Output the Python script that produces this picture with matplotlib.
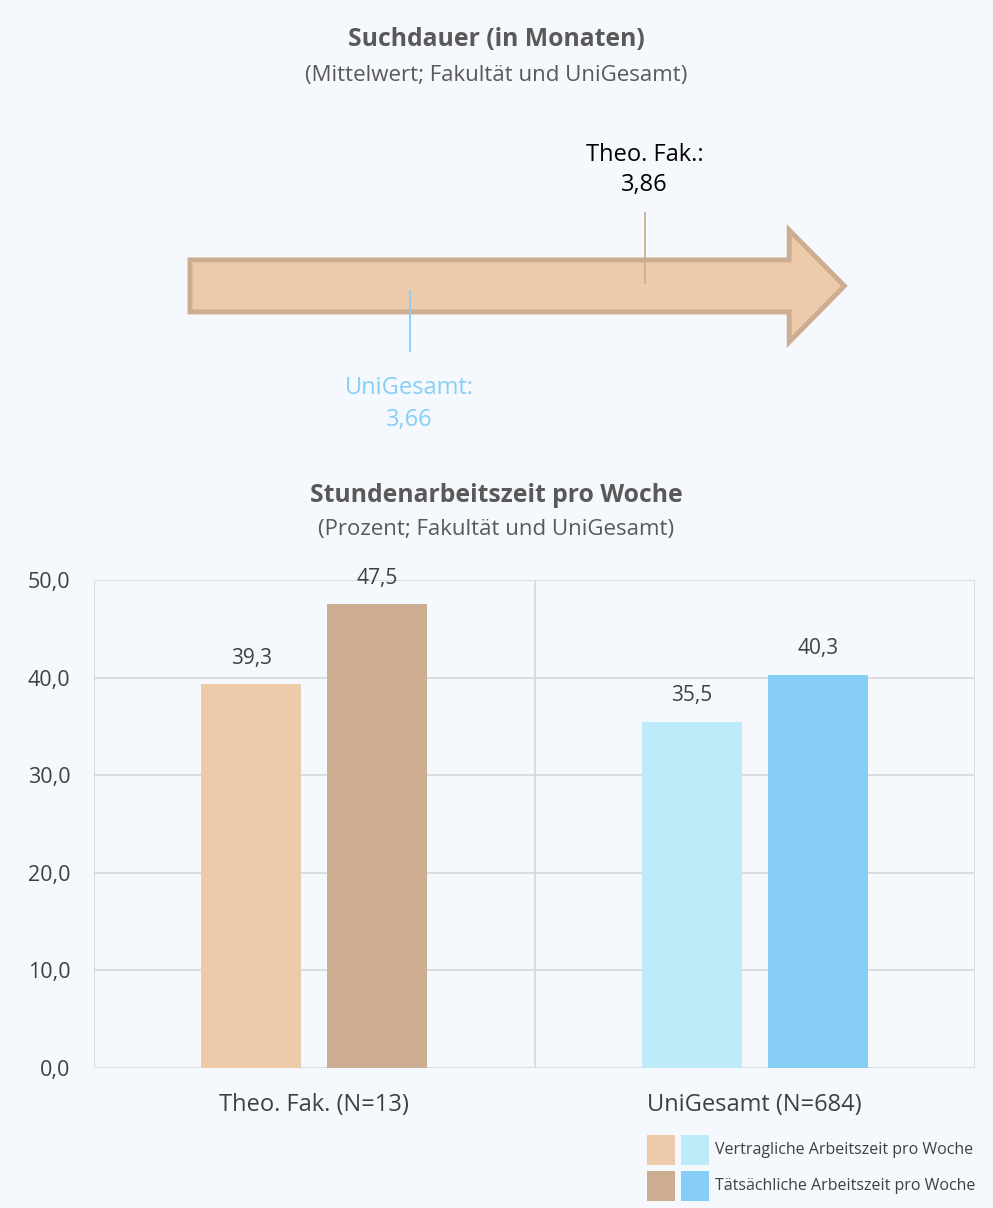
import matplotlib.pyplot as plt
from matplotlib.patches import Polygon, Rectangle

plt.rcParams['font.family'] = ['Open Sans', 'DejaVu Sans']

# Suchdauer (Monate, Mittelwert)
search_groups = ["Theo. Fak.", "UniGesamt"]
search_months = [3.86, 3.66]

# Stundenarbeitszeit pro Woche
categories = ["Theo. Fak. (N=13)", "UniGesamt (N=684)"]
contract_hours = [39.3, 35.5]
actual_hours = [47.5, 40.3]
series_labels = ["Vertragliche Arbeitszeit pro Woche", "Tätsächliche Arbeitszeit pro Woche"]

bg = "#F5F8FC"
text_col = "#404040"
title_col = "#595959"
fak_light, fak_dark = "#EDCBAA", "#CDAD92"
uni_light, uni_dark = "#BDEBFA", "#87CEF7"

W, H = 993, 1208
fig = plt.figure(figsize=(W / 100, H / 100), dpi=100, facecolor=bg)

def fx(px):
    return px / W

def fy(py):
    return 1 - py / H

# titles
fig.text(0.5, fy(40), "Suchdauer (in Monaten)", ha="center", va="center",
         fontsize=17.8, fontweight="bold", color=title_col)
fig.text(0.5, fy(75), "(Mittelwert; Fakultät und UniGesamt)", ha="center", va="center",
         fontsize=16, color=title_col)
fig.text(0.5, fy(495), "Stundenarbeitszeit pro Woche", ha="center", va="center",
         fontsize=17.8, fontweight="bold", color=title_col)
fig.text(0.5, fy(530), "(Prozent; Fakultät und UniGesamt)", ha="center", va="center",
         fontsize=16, color=title_col)

# --- arrow with mean markers ---
ax0 = fig.add_axes([fx(180), fy(440), fx(675), (440 - 130) / H])
ax0.set_facecolor("none")
ax0.axis("off")
x_start, x_head, x_tip = 3.473, 3.983, 4.030
ax0.set_xlim(3.4645, 4.039)
ax0.set_ylim(0, 1)
arrow = Polygon([(x_start, 0.413), (x_head, 0.413), (x_head, 0.316), (x_tip, 0.497),
                 (x_head, 0.677), (x_head, 0.581), (x_start, 0.581)],
                closed=True, facecolor=fak_light, edgecolor=fak_dark, linewidth=3.5,
                joinstyle="miter")
ax0.add_patch(arrow)

fak_m, uni_m = search_months
ax0.plot([fak_m, fak_m], [0.506, 0.732], color=fak_dark, lw=1.3)
ax0.text(fak_m, 0.920, search_groups[0] + ":", ha="center", va="center", fontsize=17, color="black")
ax0.text(fak_m, 0.822, f"{fak_m:.2f}".replace(".", ","), ha="center", va="center",
         fontsize=17, color="black")
ax0.plot([uni_m, uni_m], [0.287, 0.481], color=uni_dark, lw=1.3)
ax0.text(uni_m, 0.168, search_groups[1] + ":", ha="center", va="center", fontsize=17, color=uni_dark)
ax0.text(uni_m, 0.065, f"{uni_m:.2f}".replace(".", ","), ha="center", va="center",
         fontsize=17, color=uni_dark)

# --- bar chart ---
ax = fig.add_axes([fx(94), fy(1068), fx(975 - 94), (1068 - 580) / H])
ax.set_facecolor(bg)
ax.set_xlim(-0.5, 1.5)
ax.set_ylim(0, 50)
ax.set_yticks(range(0, 51, 10))
ax.set_yticklabels([f"{v},0" for v in range(0, 51, 10)])
ax.yaxis.grid(True, color="#D9D9D9", lw=1.3)
ax.set_axisbelow(True)
for s in ax.spines.values():
    s.set_visible(False)
ax.axvline(-0.5, color="#D9D9D9", lw=1.3, zorder=0)
ax.axvline(0.5, color="#D9D9D9", lw=1.3, zorder=0)
ax.axvline(1.5, color="#D9D9D9", lw=1.3, zorder=0)
ax.tick_params(axis="y", length=0, labelsize=15.5, labelcolor=text_col, pad=17)
ax.tick_params(axis="x", length=0, labelsize=17, labelcolor=text_col, pad=18)
ax.set_xticks([0, 1])
ax.set_xticklabels(categories)

bw = 0.227
off = 0.143
light_cols = [fak_light, uni_light]
dark_cols = [fak_dark, uni_dark]
for i in range(len(categories)):
    b1 = ax.bar(i - off, contract_hours[i], bw, color=light_cols[i])
    b2 = ax.bar(i + off, actual_hours[i], bw, color=dark_cols[i])
    for b, v in ((b1, contract_hours[i]), (b2, actual_hours[i])):
        ax.annotate(f"{v:.1f}".replace(".", ","), (b[0].get_x() + bw / 2, v),
                    xytext=(0, 11), textcoords="offset points", ha="center", va="bottom",
                    fontsize=15, color=text_col)

# --- legend ---
for row, (label, cols) in enumerate(zip(series_labels, [light_cols, dark_cols])):
    top = 1135 + row * 36
    for j, c in enumerate(cols):
        left = 647 + j * 34
        fig.patches.append(Rectangle((fx(left), fy(top + 30)), fx(28), 30 / H,
                                     transform=fig.transFigure, facecolor=c, edgecolor="none"))
    fig.text(fx(715), fy(top + 15), label, ha="left", va="center", fontsize=11.5, color=text_col)

fig.savefig("out.png", dpi=100, facecolor=bg)
